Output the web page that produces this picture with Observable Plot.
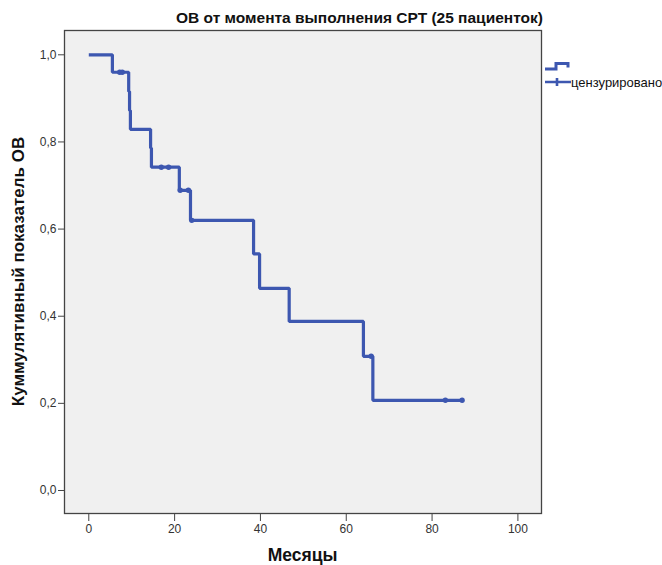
<!DOCTYPE html>
<html>
<head>
<meta charset="utf-8">
<script src="https://cdn.jsdelivr.net/npm/d3@7"></script>
<script src="https://cdn.jsdelivr.net/npm/@observablehq/plot@0.6"></script>
<style>
  body { margin: 0; background: #fff; }
  svg text { font-family: "Liberation Sans", Arial, sans-serif; }
</style>
</head>
<body>
<div id="chart"></div>
<script>
// Kaplan–Meier step curve (months, cumulative survival)
const stepTimes = [0, 5.5, 9.3, 9.5, 9.7, 14.4, 14.6, 21.1, 23.7, 38.4, 39.8, 46.7, 64.0, 66.2, 87.0];
const stepSurv  = [1.0, 0.96, 0.916, 0.872, 0.829, 0.786, 0.742, 0.689, 0.62, 0.543, 0.464, 0.388, 0.308, 0.207, 0.207];
// Censored observations
const censorTimes = [7.2, 7.8, 16.9, 18.6, 21.3, 23.2, 24.0, 65.8, 83.1, 87.0];
const censorSurv  = [0.96, 0.96, 0.742, 0.742, 0.689, 0.689, 0.62, 0.308, 0.207, 0.207];
const xTicks = [0, 20, 40, 60, 80, 100];
const yTicks = [0, 0.2, 0.4, 0.6, 0.8, 1.0];

const title = "ОВ от момента выполнения СРТ (25 пациенток)";
const xLabel = "Месяцы";
const yLabel = "Куммулятивный показатель ОВ";
const legendLabel = "цензурировано";

const steps = stepTimes.map((t, i) => ({t, s: stepSurv[i]}));
const censors = censorTimes.map((t, i) => ({t, s: censorSurv[i]}));

const color = "#3d57b0";
const W = 662, H = 565;
const mL = 64, mR = 121, mT = 30, mB = 52;

const chart = Plot.plot({
  width: W, height: H,
  marginLeft: mL, marginRight: mR, marginTop: mT, marginBottom: mB,
  style: {fontFamily: "Liberation Sans, Arial, sans-serif", fontSize: "11px", color: "#333", background: "#fff"},
  x: {domain: [-5.66, 105.5], ticks: xTicks, label: null},
  y: {domain: [-0.0528, 1.0558], ticks: yTicks, label: null},
  marks: [
    Plot.frame({fill: "#f0f0f0", stroke: null}),
    Plot.line(steps, {x: "t", y: "s", curve: "step-after", stroke: color, strokeWidth: 3.2, strokeLinejoin: "miter", strokeLinecap: "butt"}),
    Plot.dot(censors, {x: "t", y: "s", r: 2.7, fill: color, stroke: null}),
    Plot.frame({stroke: "#444", strokeWidth: 1.3}),
    Plot.axisX({ticks: xTicks, tickSize: 8, tickPadding: 3, stroke: "#444", fill: "#333", fontSize: 12, tickFormat: d => String(d), label: null}),
    Plot.axisY({ticks: yTicks, tickSize: 6, tickPadding: 2, stroke: "#444", fill: "#333", fontSize: 12, tickFormat: d => d.toFixed(1).replace(".", ","), label: null})
  ]
});

document.getElementById("chart").appendChild(chart);

const svg = d3.select(chart);
// Title
svg.append("text").attr("x", 176).attr("y", 23).attr("text-anchor", "start")
  .attr("font-size", 15.5).attr("font-weight", "bold").attr("fill", "#111")
  .text(title);
// X label
svg.append("text").attr("x", (mL + W - mR) / 2).attr("y", 561)
  .attr("text-anchor", "middle").attr("font-size", 17.5).attr("font-weight", "bold").attr("fill", "#111")
  .text(xLabel);
// Y label
svg.append("text").attr("transform", `translate(24,${(mT + H - mB) / 2}) rotate(-90)`)
  .attr("text-anchor", "middle").attr("font-size", 17).attr("font-weight", "bold").attr("fill", "#111")
  .text(yLabel);
// Legend
const lg = svg.append("g");
lg.append("path").attr("d", "M545,69 H556 V63.5 H568 V67.5")
  .attr("fill", "none").attr("stroke", color).attr("stroke-width", 3);
lg.append("path").attr("d", "M545,82 H571 M557,78 V86")
  .attr("fill", "none").attr("stroke", color).attr("stroke-width", 2.6);
lg.append("text").attr("x", 571).attr("y", 86.5).attr("text-anchor", "start")
  .attr("font-size", 13).attr("fill", "#111")
  .text(legendLabel);
</script>
</body>
</html>
